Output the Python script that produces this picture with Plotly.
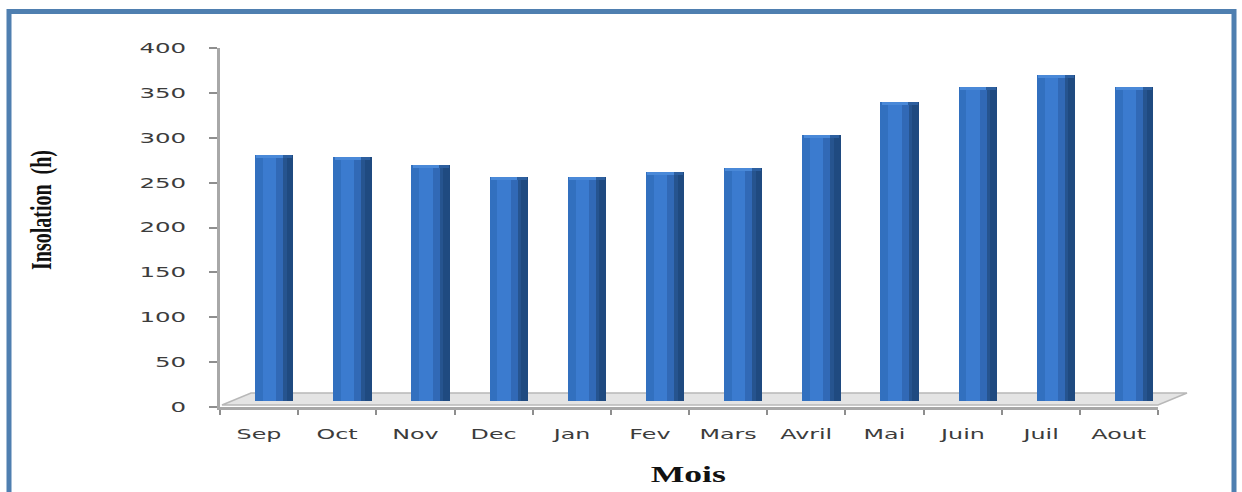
import plotly.graph_objects as go

# Monthly sunshine duration (hours)
mois = ["Sep", "Oct", "Nov", "Dec", "Jan", "Fev", "Mars", "Avril", "Mai", "Juin", "Juil", "Aout"]
insolation = [274, 272, 263, 250, 250, 255, 260, 296, 333, 350, 363, 350]
y_ticks = [0, 50, 100, 150, 200, 250, 300, 350, 400]

W, H = 1242, 492
ML, MR, MT, MB = 220, 84, 48, 85
PW, PH = W - ML - MR, H - MT - MB
Y_MAX = 400


def px(x):
    """screen x (px) -> paper fraction"""
    return (x - ML) / PW


def py(y):
    """screen y (px) -> paper fraction"""
    return (H - MB - y) / PH


# 3D-look parameters (pixels)
FLOOR_DX, FLOOR_DY = 29, 12      # depth of the floor slab
BAR_LIFT = 6                     # bars stand slightly behind the front edge
lift_units = BAR_LIFT * Y_MAX / PH
CAP = 3.5                        # height of the bevelled top, in value units

# column faces: (offset, width, colour) in category units
faces = [
    (-0.051, 0.10, "#3270bf"),
    (0.049, 0.17, "#3b7bcf"),
    (0.219, 0.09, "#3169b6"),
    (0.309, 0.045, "#26548f"),
    (0.354, 0.085, "#1f4a80"),
]

fig = go.Figure()
# anchor trace for the visible value axis (draws nothing)
fig.add_trace(go.Scatter(x=mois, y=insolation, mode="none", showlegend=False,
                         hoverinfo="skip", yaxis="y"))
for off, wid, col in faces:
    fig.add_trace(go.Bar(
        x=mois, y=insolation, offset=off, width=wid,
        marker=dict(color=col, line=dict(width=0)),
        yaxis="y2", showlegend=False, hoverinfo="x+y",
    ))

# bevelled top of each column: lighter strip on the front, darker on the side
cap_base = [v - CAP for v in insolation]
fig.add_trace(go.Bar(
    x=mois, y=[CAP] * len(mois), base=cap_base, offset=-0.035, width=0.34,
    marker=dict(color="#4a89d8", line=dict(width=0)),
    yaxis="y2", showlegend=False, hoverinfo="skip",
))
fig.add_trace(go.Bar(
    x=mois, y=[CAP] * len(mois), base=cap_base, offset=0.305, width=0.12,
    marker=dict(color="#2d5f9f", line=dict(width=0)),
    yaxis="y2", showlegend=False, hoverinfo="skip",
))

shapes = []
# outer blue frame
shapes.append(dict(type="rect", xref="paper", yref="paper",
                   x0=px(9), x1=px(1234), y0=py(497), y1=py(11.5),
                   line=dict(color="#4f7fb0", width=5), fillcolor="rgba(0,0,0,0)",
                   layer="below"))
# floor slab
fx0, fx1, fy = 222, 1158, 405
floor_path = (f"M {px(fx0)} {py(fy)} L {px(fx1)} {py(fy)} "
              f"L {px(fx1 + FLOOR_DX)} {py(fy - FLOOR_DY)} "
              f"L {px(fx0 + FLOOR_DX)} {py(fy - FLOOR_DY)} Z")
shapes.append(dict(type="path", xref="paper", yref="paper", path=floor_path,
                   fillcolor="#e4e4e4", line=dict(color="#b8b8b8", width=1.5),
                   layer="below"))

annotations = [
    dict(text="Insolation\u00a0\u00a0(h)", xref="paper", yref="paper",
         x=px(42), y=py(210), xanchor="center", yanchor="middle",
         textangle=-90, showarrow=False,
         font=dict(family="Liberation Serif", size=20, color="#111111", weight="bold")),
    dict(text="Mois", xref="paper", yref="paper",
         x=px(688), y=py(474), xanchor="center", yanchor="middle",
         showarrow=False,
         font=dict(family="Liberation Serif", size=23, color="#111111", weight="bold")),
]

fig.update_layout(
    width=W, height=H,
    margin=dict(l=ML, r=MR, t=MT, b=MB, pad=0),
    paper_bgcolor="white", plot_bgcolor="rgba(0,0,0,0)",
    barmode="overlay", bargap=0,
    shapes=shapes, annotations=annotations,
    xaxis=dict(
        type="category", range=[-0.5, len(mois) - 0.5],
        showline=True, linecolor="#a8a8a8", linewidth=3,
        ticks="outside", tickson="boundaries", ticklen=5, tickwidth=2, tickcolor="#8e8e8e",
        ticklabelstandoff=12,
        tickfont=dict(family="DejaVu Sans", size=14, color="#3c3c3c"),
        showgrid=False, zeroline=False, fixedrange=True,
    ),
    yaxis=dict(
        range=[0, Y_MAX], tickvals=y_ticks,
        showline=True, linecolor="#a8a8a8", linewidth=3,
        ticks="outside", ticklen=8, tickwidth=2, tickcolor="#8e8e8e",
        ticklabelstandoff=20,
        tickfont=dict(family="DejaVu Sans", size=14, color="#3c3c3c"),
        showgrid=False, zeroline=False, fixedrange=True,
    ),
    yaxis2=dict(
        overlaying="y", range=[-lift_units, Y_MAX - lift_units],
        visible=False, fixedrange=True,
    ),
)

# Widen the glyphs horizontally (the original artwork uses broad lettering)
stretch_js = """
var gd = document.getElementById('{plot_id}');
function stretchEl(t, s) {
  var b = t.getBBox();
  var m = t.getCTM();
  var tr = t.getAttribute('transform') || '';
  if (Math.abs(m.a) >= Math.abs(m.c)) {
    var anc = t.getAttribute('text-anchor') || 'start';
    var cx = anc === 'end' ? b.x + b.width : (anc === 'middle' ? b.x + b.width / 2 : b.x);
    t.setAttribute('transform', tr + ' translate(' + cx + ',0) scale(' + s + ',1) translate(' + (-cx) + ',0)');
  } else {
    var cy = b.y + b.height / 2;
    t.setAttribute('transform', tr + ' translate(0,' + cy + ') scale(1,' + s + ') translate(0,' + (-cy) + ')');
  }
}
gd.querySelectorAll('.xtick text').forEach(function (t) { stretchEl(t, 1.7); });
gd.querySelectorAll('.ytick text').forEach(function (t) { stretchEl(t, 1.75); });
var ann = gd.querySelectorAll('.annotation-text');
if (ann.length > 0) stretchEl(ann[0], 1.45);
if (ann.length > 1) stretchEl(ann[1], 1.55);
"""

fig.write_html("out.html", post_script=stretch_js, config={"displayModeBar": False})
